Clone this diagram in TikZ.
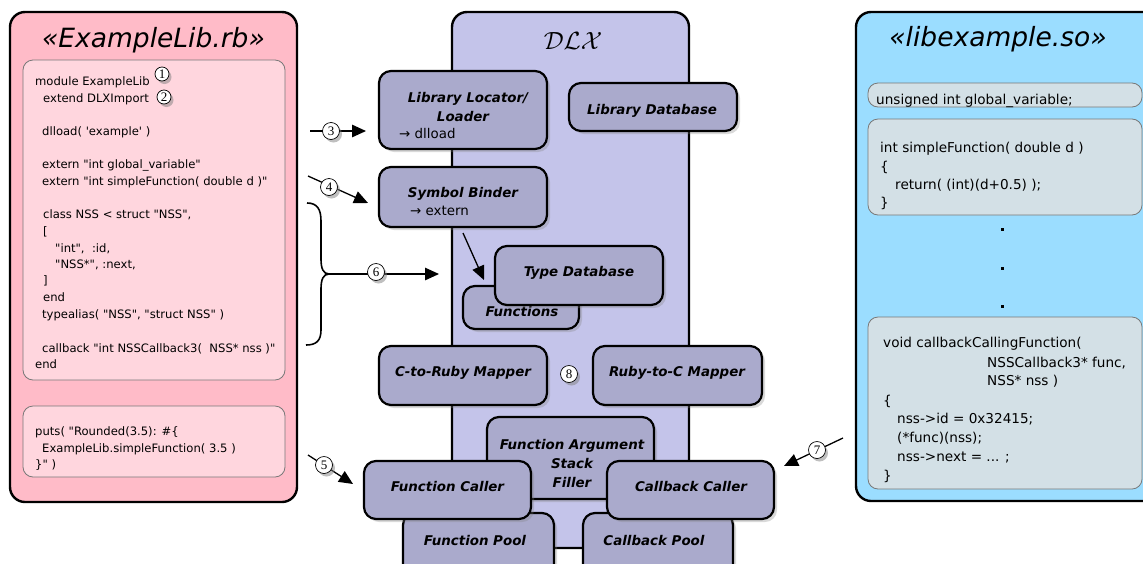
\documentclass[tikz,border=0pt]{standalone}
\usepackage{fontspec}
\setmainfont{DejaVu Sans}[Ligatures=TeXOff]
\newfontfamily\numfont{Liberation Serif}
\usetikzlibrary{shadows,arrows.meta}

\definecolor{rubypanel}{RGB}{255,187,200}
\definecolor{rubycode}{RGB}{255,214,222}
\definecolor{dlxpanel}{RGB}{196,196,234}
\definecolor{dlxbox}{RGB}{170,170,204}
\definecolor{cpanel}{RGB}{155,221,255}
\definecolor{ccode}{RGB}{211,224,230}
\definecolor{codeborder}{RGB}{120,120,120}

\tikzset{
  panel/.style={draw=black, line width=2.4pt, rounded corners=15pt, inner sep=0pt},
  codebox/.style={draw=codeborder, line width=0.8pt, rounded corners=10pt, inner sep=0pt},
  box/.style={draw=black, line width=2.2pt, fill=dlxbox, rounded corners=12pt, inner sep=0pt,
    drop shadow={shadow xshift=3pt, shadow yshift=-3pt, opacity=0.3}},
  lbl/.style={font=\fontsize{13.4}{16}\selectfont\bfseries\itshape, inner sep=0pt, anchor=mid, yshift=-3pt},
  sublbl/.style={font=\fontsize{13.4}{16}\selectfont, inner sep=0pt, anchor=mid west, yshift=-3pt},
  rubytxt/.style={font=\fontsize{11.6}{14}\selectfont, inner sep=0pt, anchor=mid west, yshift=-2.5pt},
  ctxt/.style={font=\fontsize{13.6}{16}\selectfont, inner sep=0pt, anchor=mid west, yshift=-2.5pt},
  title/.style={font=\fontsize{26.5}{30}\selectfont\itshape, inner sep=0pt, anchor=base},
  num/.style={circle, draw=black, line width=0.7pt, fill=white, inner sep=0pt, minimum size=17pt,
    font=\numfont\fontsize{13}{13}\selectfont,
    drop shadow={shadow xshift=2.5pt, shadow yshift=-3pt, opacity=0.5}},
  conn/.style={line width=1.3pt},
  arr/.style={conn, -{Triangle[length=14pt,width=12.5pt]}}
}

\begin{document}
\begin{tikzpicture}[x=1pt,y=-1pt]
\useasboundingbox (0,0) rectangle (1143,563);
\clip (0,0) rectangle (1143,563);

% ---------- Ruby side ----------
\node[panel, fill=rubypanel, minimum width=287pt, minimum height=490pt] (ruby) at (153.5,257) {};
\node[title] (rubytitle) at (153.5,47) {«ExampleLib.rb»};
\node[codebox, fill=rubycode, minimum width=262pt, minimum height=320pt] (rubymod) at (154,220) {};
\node[codebox, fill=rubycode, minimum width=262pt, minimum height=71pt] (rubyputs) at (154,441.5) {};

\foreach \y/\x/\t [count=\i] in {
  80/35/{module ExampleLib},
  97/43/{extend DLXImport},
  130/42/{dlload( 'example' )},
  163/42/{extern "int global\_variable"},
  180/42/{extern "int simpleFunction( double d )"},
  213/43/{class NSS < struct "NSS",},
  230/43/{[},
  247/55/{"int",\ \ :id,},
  263/55/{"NSS*", :next,},
  279/43/{]},
  296/43/{end},
  313/42/{typealias( "NSS", "struct NSS" )},
  347/42/{callback "int NSSCallback3(\ \ NSS* nss )"},
  363/35/{end}}
  \node[rubytxt] (rm\i) at (\x,\y) {\t};

\foreach \y/\x/\t [count=\i] in {
  430/35/{puts( "Rounded(3.5): \#\{},
  447/42/{ExampleLib.simpleFunction( 3.5 )},
  463/35/{\}" )}}
  \node[rubytxt] (rp\i) at (\x,\y) {\t};

% ---------- C side ----------
\node[panel, fill=cpanel, minimum width=314pt, minimum height=489pt] (clib) at (1013,256.5) {};
\node[title] (ctitle) at (998,46) {«libexample.so»};
\node[codebox, fill=ccode, minimum width=274pt, minimum height=24pt] (cvar) at (1005,95) {};
\node[codebox, fill=ccode, minimum width=274pt, minimum height=96pt] (cfun) at (1005,167) {};
\node[codebox, fill=ccode, minimum width=274pt, minimum height=172pt] (ccb) at (1005,403) {};

\node[ctxt] (cv1) at (876,99) {unsigned int global\_variable;};
\foreach \y/\x/\t [count=\i] in {
  147/880/{int simpleFunction( double d )},
  166/880/{\{},
  184/895/{return( (int)(d+0.5) );},
  202/880/{\}}}
  \node[ctxt] (cf\i) at (\x,\y) {\t};
\foreach \y/\x/\t [count=\i] in {
  342/883/{void callbackCallingFunction(},
  362/987/{NSSCallback3* func,},
  380/987/{NSS* nss )},
  400/883/{\{},
  418/897/{nss->id = 0x32415;},
  437/897/{(*func)(nss);},
  456/897/{nss->next = ... ;},
  475/883/{\}}}
  \node[ctxt] (cc\i) at (\x,\y) {\t};

\foreach \y in {229,268,306}
  \fill (1000.5,\y-1.5) rectangle +(3,3);

% ---------- DLX ----------
\node[panel, fill=dlxpanel, minimum width=237pt, minimum height=536pt] (dlx) at (570.5,280) {};
\node[inner sep=0pt, anchor=base, font=\fontsize{28}{30}\selectfont] (dlxtitle) at (573,49) {$\mathcal{DLX}$};

\node[box, minimum width=168pt, minimum height=78pt] (loc) at (463,110) {};
\node[lbl] (locA) at (468,97) {Library Locator/};
\node[lbl] (locB) at (463,116) {Loader};
\node[sublbl] (locC) at (399,133) {→ dlload};

\node[box, minimum width=168pt, minimum height=48pt] (libdb) at (653,107) {};
\node[lbl] (libdbT) at (652,109) {Library Database};

\node[box, minimum width=168pt, minimum height=60pt] (binder) at (463,197) {};
\node[lbl] (binderA) at (463,192) {Symbol Binder};
\node[sublbl] (binderB) at (410,210) {→ extern};

\node[box, minimum width=116pt, minimum height=43pt] (funcs) at (521,307.5) {};
\node[lbl] (funcsT) at (522,311) {Functions};
\node[box, minimum width=168pt, minimum height=59pt] (typedb) at (579,275.5) {};
\node[lbl] (typedbT) at (579,271) {Type Database};

\node[box, minimum width=168pt, minimum height=59pt] (c2r) at (463,375.5) {};
\node[lbl] (c2rT) at (463,371) {C-to-Ruby Mapper};
\node[box, minimum width=169pt, minimum height=59pt] (r2c) at (677.5,375.5) {};
\node[lbl] (r2cT) at (677,371) {Ruby-to-C Mapper};

\node[box, minimum width=167pt, minimum height=82pt] (filler) at (570.5,458) {};
\node[lbl] (fillerA) at (572,444) {Function Argument};
\node[lbl] (fillerB) at (572,463) {Stack};
\node[lbl] (fillerC) at (572,482) {Filler};

\node[box, minimum width=151pt, minimum height=67pt] (fpool) at (478.5,546.5) {};
\node[lbl] (fpoolT) at (475,540) {Function Pool};
\node[box, minimum width=150pt, minimum height=67pt] (cpool) at (658,546.5) {};
\node[lbl] (cpoolT) at (654,540) {Callback Pool};

\node[box, minimum width=167pt, minimum height=58pt] (fcaller) at (447.5,490) {};
\node[lbl] (fcallerT) at (447.5,486) {Function Caller};
\node[box, minimum width=167pt, minimum height=58pt] (ccaller) at (690.5,490) {};
\node[lbl] (ccallerT) at (691,486) {Callback Caller};

% ---------- connectors ----------
\coordinate (s3) at (310,131);  \coordinate (e3) at (366,131);
\coordinate (s4) at (308,176);  \coordinate (e4) at (368,203);
\coordinate (s5) at (308,455);  \coordinate (e5) at (353,484);
\coordinate (btip) at (329,274); \coordinate (e6) at (439,274);
\coordinate (s7) at (843,438);  \coordinate (e7) at (784,466);
\coordinate (sb) at (463,233);  \coordinate (eb) at (484,280);

\draw[arr] (s3) -- (e3);
\draw[arr] (s4) -- (e4);
\draw[arr] (s5) -- (e5);
\draw[arr] (btip) -- (e6);
\draw[arr] (s7) -- (e7);
\draw[arr] (sb) -- (eb);

% brace grouping the type declarations
\draw[line width=1.6pt] (307,203) .. controls (317,203) and (321,209) .. (321,221)
  -- (321,259) .. controls (321,268) and (323,274) .. (btip)
  .. controls (323,274) and (321,280) .. (321,289)
  -- (321,330) .. controls (321,341) and (316,345) .. (306,345);

% ---------- step numbers ----------
\node[num, minimum size=14pt] (n1) at (162,74) {1};
\node[num, minimum size=14pt] (n2) at (164,97) {2};
\node[num] (n3) at (331,131) {3};
\node[num] (n4) at (329,187) {4};
\node[num] (n5) at (324,465) {5};
\node[num] (n6) at (376,272) {6};
\node[num] (n7) at (817,450) {7};
\node[num] (n8) at (569,374) {8};
\end{tikzpicture}
\end{document}
